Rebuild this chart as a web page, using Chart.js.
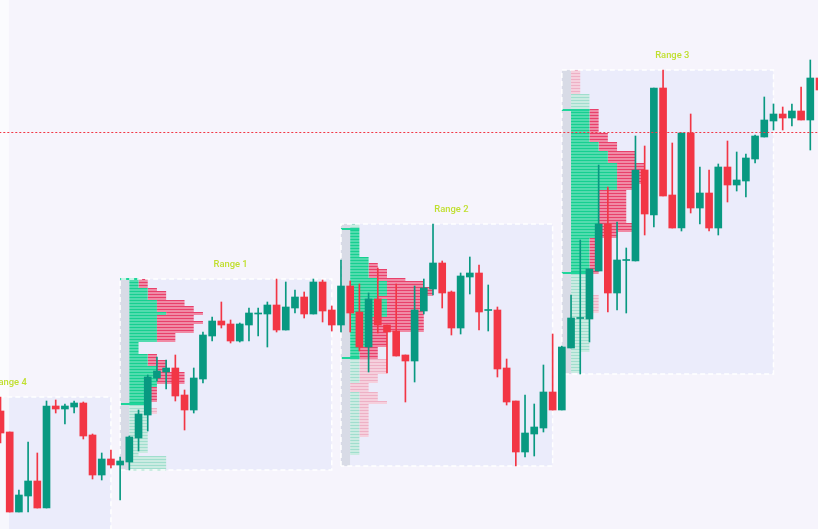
<!DOCTYPE html>
<html>
<head>
<meta charset="utf-8">
<style>
html,body{margin:0;padding:0;background:#f6f4fc;overflow:hidden;}
#wrap{width:818px;height:529px;position:relative;}
</style>
<script src="https://cdn.jsdelivr.net/npm/chart.js@4.4.1/dist/chart.umd.min.js"></script>
</head>
<body>
<div id="wrap"><canvas id="c"></canvas></div>
<script>
// ---------- candle data (index 0 = first visible bar) ----------
const candleOpen  = [118,97,17,33,48,21,123,120,122,126,94,54,70,64,67,91,114,151,157,161,134,119,150,193,208,205,188,204,215,215,224,199,221,232,215,247,219,204,243,217,182,230,204,198,174,168,218,240,266,237,201,252,256,218.5,219,161,128,77,95,101,137,119,181,210.5,210,258,305,236,268.5,268,359,314,441,334,301,396,321,336,301,362,344,348,370,392,408,415,411,418,409,451];
const candleHigh  = [132,97,39,87,76,128,129,125,128,127,95,76,79,72,93,119,154,172,169,174,139,161,197,212,227,209,206,221,221,227,250,247,239,237,250,249,223,269,248,245,236,261,204,245,174,243,250,305,268,238,256,272,264,244,222,170,128,134,125,164,195,183,234,289,260,364,342,307,281,393,383,441,459,386,396,415,362,359,365,388,377,375,394,432,425,422,425,442,469,455];
const candleLow   = [86,17,17,17,21,21,116,105,116,90,50,49,61,29,59,78,98,148,140,128,99,116,146,188,201,186,187,188,193,182,197,199,216,211,215,207,198,197,197,178,157,196,156,173,127,147,215,234,221,194,195,235,199,198,152,124,63,72,73,97,119,119,181,155,187,258,217,219,216,268,294,302,333,301,298,316,305,298,294,327,338,332,366,392,399,399,403,409,379,436];
const candleClose = [96,17,34,48,21,123,120,123,126,93,54,70,64,68,92,115,152,158,161,133,119,151,194,208,204,188,205,216,216,224,199,222,232,215,247,218,204,243,216,182,230,204,197,173,168,219,241,266,236,201,253,256,217,219.5,160,127,77,96,102,137,119,182,211,211.5,260,305,236,269,269.5,359,315,441,333,301,396,321,336,301,362,344,349,371,393,409,415,411,418,409,451,439];

// ---------- ranges ----------
const rangeNames = ['Range 4','Range 1','Range 2','Range 3'];
const rangeStart = [-10, 14, 38, 62];
const rangeEnd   = [12, 36, 60, 84];
const rangeHigh  = [132, 250, 305, 459];
const rangeLow   = [-40, 59, 63, 155];
const valueAreaHigh = [null, 250, 300, 419];
const valueAreaLow  = [null, 125, 171, 256];

// volume profile bands: [priceTop, priceBottom, buyVolume, sellVolume]
const profileRange4 = [];
const profileRange1 = [
  [250,242,1,1],[242,238,2,1],[238,228,2,2],[228,224,3,3],[224,218,3,4],[218,215,4,4],
  [215,213,3,3],[213,209,3,4],[209,205,3,5],[205,197,3,4],[197,186,3,2],[186,174,1,0],
  [174,170,2,1],[170,164,2,2],[164,156,3,1],[156,146,3,3],[146,141,3,0],[141,128,2,1],
  [128,122,2,0],[122,114,2,1],[114,76,2,0],[76,73,1,0],[73,59,4,0]
];
const profileRange2 = [
  [305,300,1,0],[300,271,1,0],[271,266,2,0],[266,261,2,1],[261,251,2,2],[251,247,3,3],
  [247,243,4,4],[243,233,4,5],[233,229,3,5],[229,213,4,4],[213,197,2,6],[197,182,2,2],
  [182,171,1,2],[171,156,1,3],[156,147,1,2],[147,136,0,2],[136,127,1,2],[127,125,1,3],
  [125,92,1,1],[92,74,1,0],[74,63,0,0]
];
const profileRange3 = [
  [459,435,0,1],[435,419,2,0],[419,396,2,1],[396,386,2,2],[386,377,3,2],[377,367,4,3],
  [367,359,5,3],[359,345,5,3],[345,338,5,2],[338,326,3,3],[326,307,3,3],[307,297,3,4],
  [297,292,3,2],[292,256,2,1],[256,234,2,0],[234,217,2,1],[217,177,2,0],[177,155,1,0]
];
const profiles = [profileRange4, profileRange1, profileRange2, profileRange3];
const markerPrice = 396.5;

// ---------- styles ----------
const UP = '#089981', DOWN = '#f23645';
const BOX_FILL = '#ebecfb', BOX_BORDER = '#ffffff';
const LABEL_COLOR = '#c0df2f';
const GRAY_COL = '#d8dbe6';
const G_FILL = '#52dbae', G_LINE = '#16cf90';
const R_FILL = '#f08aa5', R_LINE = '#e8406b';
const GF_FILL = '#cbebe2', GF_LINE = '#a0dece';
const RF_FILL = '#f5d0dd', RF_LINE = '#eeb0c5';
const VA_LINE = '#1fd59b';
const ROW = 3;
const X_MIN = -0.0543, X_MAX = 88.836;

// ---------- helpers ----------
function segLine(segs, color, width, order, dash) {
  const pts = [];
  segs.forEach(s => { pts.push({x:s[0], y:s[2]}, {x:s[1], y:s[2]}, {x:s[1], y:null}); });
  return {type:'line', data:pts, borderColor:color, borderWidth:width, pointRadius:0,
          fill:false, spanGaps:false, tension:0, borderCapStyle:'butt', order:order,
          borderDash: dash || []};
}
function rectFill(x0, x1, top, bottom, color, order) {
  return {type:'line', data:[{x:x0,y:top},{x:x1,y:top}], borderColor:'rgba(0,0,0,0)', borderWidth:1,
          pointRadius:0, fill:{target:{value:bottom}}, backgroundColor:color, tension:0, order:order};
}

const datasets = [];

// range boxes
rangeNames.forEach((n, r) => {
  const L = rangeStart[r] - 1, R = rangeEnd[r];
  datasets.push(rectFill(L, R, rangeHigh[r], rangeLow[r], BOX_FILL, 100));
  datasets.push({type:'line', data:[{x:L,y:rangeLow[r]},{x:L,y:rangeHigh[r]},{x:R,y:rangeHigh[r]},{x:R,y:rangeLow[r]},{x:L,y:rangeLow[r]}],
    borderColor:BOX_BORDER, borderWidth:1.5, borderDash:[5,3], pointRadius:0, fill:false, tension:0, order:80});
});

// left light strip
datasets.push(rectFill(-1, 0.92, 600, -100, 'rgba(255,255,255,0.6)', 96));

// profiles
const seg = {gf:[], gl:[], rf:[], rl:[], gff:[], gfl:[], rff:[], rfl:[], va:[]};
profiles.forEach((blocks, r) => {
  if (!blocks.length) return;
  const L = rangeStart[r] - 1;
  const top = rangeHigh[r], bottom = rangeLow[r];
  datasets.push(rectFill(L, L + 1, top, bottom, GRAY_COL, 92));
  const buyAt = p => { const b = blocks.find(b => p <= b[0] && p > b[1]); return b ? b[2] : 0; };
  for (let p = top; p > bottom + 0.5; p -= ROW) {
    const mid = p - ROW / 2;
    const b = blocks.find(b => mid <= b[0] && mid > b[1]);
    if (!b) continue;
    const inVA = mid <= valueAreaHigh[r] && mid >= valueAreaLow[r];
    const x0 = L + 1, x1 = x0 + b[2], x2 = x1 + b[3];
    if (b[2] > 0) {
      (inVA ? seg.gf : seg.gff).push([x0, x1, p - 2]);
      (inVA ? seg.gl : seg.gfl).push([x0, x1, p - 0.5]);
    }
    if (b[3] > 0) {
      (inVA ? seg.rf : seg.rff).push([x1, x2, p - 2]);
      (inVA ? seg.rl : seg.rfl).push([x1, x2, p - 0.5]);
    }
  }
  seg.va.push([L, L + 1 + buyAt(valueAreaHigh[r] - 1.5), valueAreaHigh[r]]);
  seg.va.push([L, L + 1 + buyAt(valueAreaLow[r] + 1.5), valueAreaLow[r]]);
});
datasets.push(segLine(seg.gff, GF_FILL, 2, 90));
datasets.push(segLine(seg.rff, RF_FILL, 2, 90));
datasets.push(segLine(seg.gfl, GF_LINE, 1, 89));
datasets.push(segLine(seg.rfl, RF_LINE, 1, 89));
datasets.push(segLine(seg.gf, G_FILL, 2, 88));
datasets.push(segLine(seg.rf, R_FILL, 2, 88));
datasets.push(segLine(seg.gl, G_LINE, 1, 87));
datasets.push(segLine(seg.rl, R_LINE, 1, 87));
datasets.push(segLine(seg.va, VA_LINE, 2, 85));

// candles
const idx = candleOpen.map((_, i) => i);
const colors = idx.map(i => candleClose[i] >= candleOpen[i] ? UP : DOWN);
datasets.push({type:'bar', data: idx.map(i => ({x:i, y:[candleLow[i], candleHigh[i]]})),
  backgroundColor: colors, grouped:false, barThickness:1, maxBarThickness:1, minBarLength:1, borderWidth:0, order:20});
datasets.push({type:'bar', data: idx.map(i => ({x:i, y:[candleOpen[i], candleClose[i]]})),
  backgroundColor: colors, grouped:false, barThickness:7, maxBarThickness:7, minBarLength:1, borderWidth:0, order:10});

// horizontal marker line
datasets.push(segLine([[-1, 90, markerPrice]], DOWN, 1, 5, [2, 2]));

const labelPlugin = {
  id: 'rangeLabels',
  afterDatasetsDraw(chart) {
    const {ctx, scales} = chart;
    ctx.save();
    ctx.font = '500 9.4px Roboto';
    ctx.fillStyle = LABEL_COLOR;
    ctx.textAlign = 'center';
    ctx.textBaseline = 'middle';
    rangeNames.forEach((n, r) => {
      ctx.fillText(n, scales.x.getPixelForValue(rangeStart[r] + 11), scales.y.getPixelForValue(rangeHigh[r]) - 14.5);
    });
    ctx.restore();
  }
};

new Chart(document.getElementById('c'), {
  type: 'bar',
  data: { datasets },
  options: {
    responsive: true,
    maintainAspectRatio: false,
    animation: false,
    devicePixelRatio: 1,
    layout: { padding: 0 },
    plugins: { legend: {display:false}, tooltip: {enabled:false} },
    scales: {
      x: { type:'linear', min:X_MIN, max:X_MAX, display:false, offset:false },
      y: { type:'linear', min:0, max:529, display:false }
    }
  },
  plugins: [labelPlugin]
});
</script>
</body>
</html>
